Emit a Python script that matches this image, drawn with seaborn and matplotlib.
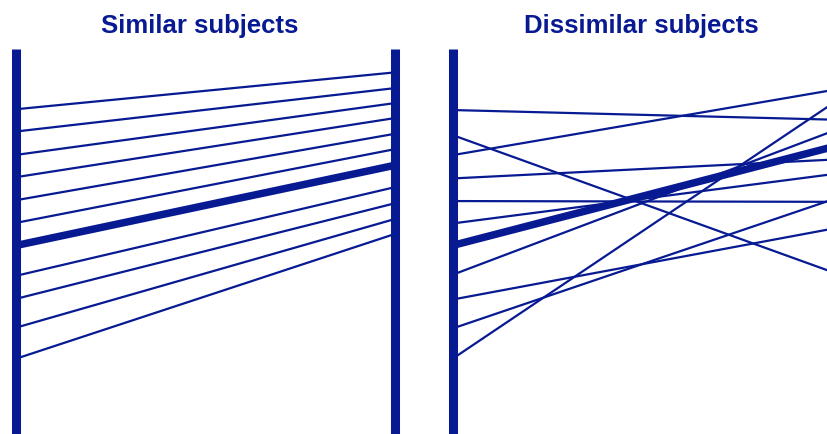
import pandas as pd
import seaborn as sns
import matplotlib.pyplot as plt

# valores (escala 0-100), antes (x=0) e depois (x=1)
similar_before = [84.3, 78.5, 72.4, 66.6, 60.6, 54.7, 40.9, 34.9, 27.4, 19.3]
similar_after = [93.9, 89.8, 85.9, 82.0, 77.9, 73.9, 64.0, 59.8, 55.7, 51.8]
similar_mean = [48.8, 69.7]

dissimilar_before = [84.1, 77.5, 72.4, 66.3, 60.4, 54.6, 41.3, 34.8, 27.3, 19.5]
dissimilar_after = [81.6, 41.9, 89.3, 71.2, 60.2, 67.4, 78.6, 53.2, 60.8, 85.8]
dissimilar_mean = [48.9, 74.5]

titles = ["Similar subjects", "Dissimilar subjects"]
blue = "#071A92"


def long_table(before, after):
    rows = []
    for i, (b, a) in enumerate(zip(before, after)):
        rows.append({"subject": i, "x": 0, "value": b})
        rows.append({"subject": i, "x": 1, "value": a})
    return pd.DataFrame(rows)


sns.set_style("white")
plt.rcParams["font.family"] = ["Liberation Sans", "DejaVu Sans"]

W, H = 827, 434
fig = plt.figure(figsize=(W / 100, H / 100), dpi=100)

panels = [
    (15.5, similar_before, similar_after, similar_mean, 200),
    (453.5, dissimilar_before, dissimilar_after, dissimilar_mean, 641),
]

for (x0, before, after, mean, tx), title in zip(panels, titles):
    ax = fig.add_axes([x0 / W, 1 / H, 379 / W, 384 / H])
    df = long_table(before, after)
    sns.lineplot(data=df, x="x", y="value", units="subject", estimator=None,
                 color=blue, lw=1.6, legend=False, ax=ax)
    df_mean = pd.DataFrame({"x": [0, 1], "value": mean})
    sns.lineplot(data=df_mean, x="x", y="value", color=blue, lw=5.4,
                 legend=False, ax=ax, solid_capstyle="butt")
    for xb in [0, 1]:
        ax.axvline(xb, ymin=-0.01, ymax=1, color=blue, lw=6.5,
                   solid_capstyle="butt", clip_on=False, zorder=5)
    ax.set_xlim(0, 1)
    ax.set_ylim(0, 100)
    ax.axis("off")
    fig.text(tx / W, 1 - 33.3 / H, title, ha="center", va="baseline",
             fontsize=18.5, fontweight="bold", color=blue)

plt.savefig("out.png", dpi=100)
